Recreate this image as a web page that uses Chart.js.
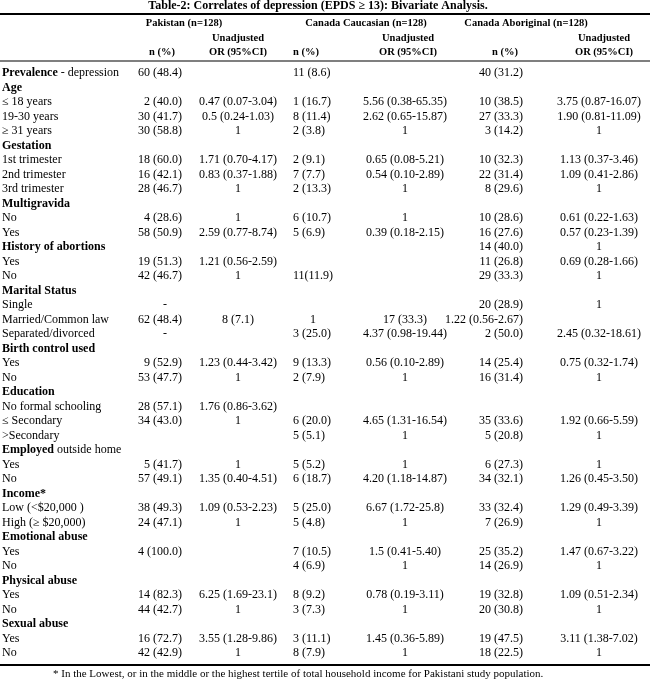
<!DOCTYPE html>
<html>
<head>
<meta charset="utf-8">
<script src="https://cdn.jsdelivr.net/npm/chart.js@4.4.1/dist/chart.umd.min.js"></script>
<style>
  body { margin: 0; background: #fff; }
  #wrap { width: 650px; height: 681px; }
</style>
</head>
<body>
<div id="wrap"><canvas id="tbl" width="650" height="681"></canvas></div>
<script>
const title = 'Table-2: Correlates of depression (EPDS \u2265 13): Bivariate Analysis.';
const groups = ['Pakistan (n=128)', 'Canada Caucasian (n=128)', 'Canada Aboriginal (n=128)'];
const subHeads = ['n (%)', 'Unadjusted|OR (95%CI)'];
const footnote = '* In the Lowest, or in the middle or the highest tertile of total household income for Pakistani study population.';

const rowLabels = [
  'Prevalence - depression', 'Age', '\u2264 18 years', '19-30 years', '\u2265 31 years',
  'Gestation', '1st trimester', '2nd trimester', '3rd trimester',
  'Multigravida', 'No', 'Yes',
  'History of abortions', 'Yes', 'No',
  'Marital Status', 'Single', 'Married/Common law', 'Separated/divorced',
  'Birth control used', 'Yes', 'No',
  'Education', 'No formal schooling', '\u2264 Secondary', '>Secondary',
  'Employed outside home', 'Yes', 'No',
  'Income*', 'Low (<$20,000 )', 'High (\u2265 $20,000)',
  'Emotional abuse', 'Yes', 'No',
  'Physical abuse', 'Yes', 'No',
  'Sexual abuse', 'Yes', 'No'
];
const headRows = [0, 1, 5, 9, 12, 15, 19, 22, 26, 29, 32, 35, 38];
const boldFirstWord = [0, 26];

const pakN = [
  '60 (48.4)', '', '2 (40.0)', '30 (41.7)', '30 (58.8)',
  '', '18 (60.0)', '16 (42.1)', '28 (46.7)',
  '', '4 (28.6)', '58 (50.9)',
  '', '19 (51.3)', '42 (46.7)',
  '', '-', '62 (48.4)', '-',
  '', '9 (52.9)', '53 (47.7)',
  '', '28 (57.1)', '34 (43.0)', '',
  '', '5 (41.7)', '57 (49.1)',
  '', '38 (49.3)', '24 (47.1)',
  '', '4 (100.0)', '',
  '', '14 (82.3)', '44 (42.7)',
  '', '16 (72.7)', '42 (42.9)'
];
const pakOR = [
  '', '', '0.47 (0.07-3.04)', '0.5 (0.24-1.03)', '1',
  '', '1.71 (0.70-4.17)', '0.83 (0.37-1.88)', '1',
  '', '1', '2.59 (0.77-8.74)',
  '', '1.21 (0.56-2.59)', '1',
  '', '', '8 (7.1)', '',
  '', '1.23 (0.44-3.42)', '1',
  '', '1.76 (0.86-3.62)', '1', '',
  '', '1', '1.35 (0.40-4.51)',
  '', '1.09 (0.53-2.23)', '1',
  '', '', '',
  '', '6.25 (1.69-23.1)', '1',
  '', '3.55 (1.28-9.86)', '1'
];
const canN = [
  '11 (8.6)', '', '1 (16.7)', '8 (11.4)', '2 (3.8)',
  '', '2 (9.1)', '7 (7.7)', '2 (13.3)',
  '', '6 (10.7)', '5 (6.9)',
  '', '', '11(11.9)',
  '', '', '1', '3 (25.0)',
  '', '9 (13.3)', '2 (7.9)',
  '', '', '6 (20.0)', '5 (5.1)',
  '', '5 (5.2)', '6 (18.7)',
  '', '5 (25.0)', '5 (4.8)',
  '', '7 (10.5)', '4 (6.9)',
  '', '8 (9.2)', '3 (7.3)',
  '', '3 (11.1)', '8 (7.9)'
];
const canOR = [
  '', '', '5.56 (0.38-65.35)', '2.62 (0.65-15.87)', '1',
  '', '0.65 (0.08-5.21)', '0.54 (0.10-2.89)', '1',
  '', '1', '0.39 (0.18-2.15)',
  '', '', '',
  '', '', '17 (33.3)', '4.37 (0.98-19.44)',
  '', '0.56 (0.10-2.89)', '1',
  '', '', '4.65 (1.31-16.54)', '1',
  '', '1', '4.20 (1.18-14.87)',
  '', '6.67 (1.72-25.8)', '1',
  '', '1.5 (0.41-5.40)', '1',
  '', '0.78 (0.19-3.11)', '1',
  '', '1.45 (0.36-5.89)', '1'
];
const aboN = [
  '40 (31.2)', '', '10 (38.5)', '27 (33.3)', '3 (14.2)',
  '', '10 (32.3)', '22 (31.4)', '8 (29.6)',
  '', '10 (28.6)', '16 (27.6)',
  '14 (40.0)', '11 (26.8)', '29 (33.3)',
  '', '20 (28.9)', '1.22 (0.56-2.67)', '2 (50.0)',
  '', '14 (25.4)', '16 (31.4)',
  '', '', '35 (33.6)', '5 (20.8)',
  '', '6 (27.3)', '34 (32.1)',
  '', '33 (32.4)', '7 (26.9)',
  '', '25 (35.2)', '14 (26.9)',
  '', '19 (32.8)', '20 (30.8)',
  '', '19 (47.5)', '18 (22.5)'
];
const aboOR = [
  '', '', '3.75 (0.87-16.07)', '1.90 (0.81-11.09)', '1',
  '', '1.13 (0.37-3.46)', '1.09 (0.41-2.86)', '1',
  '', '0.61 (0.22-1.63)', '0.57 (0.23-1.39)',
  '1', '0.69 (0.28-1.66)', '1',
  '', '1', '', '2.45 (0.32-18.61)',
  '', '0.75 (0.32-1.74)', '1',
  '', '', '1.92 (0.66-5.59)', '1',
  '', '1', '1.26 (0.45-3.50)',
  '', '1.29 (0.49-3.39)', '1',
  '', '1.47 (0.67-3.22)', '1',
  '', '1.09 (0.51-2.34)', '1',
  '', '3.11 (1.38-7.02)', '1'
];

// layout (pixel anchors on the 0..650 x scale)
const serif = '"Liberation Serif", "Times New Roman", serif';
const cols = [
  { values: pakN,  anchor: 182, align: 'right',  mid: 165 },
  { values: pakOR, anchor: 238, align: 'center' },
  { values: canN,  anchor: 293, align: 'left',   mid: 313 },
  { values: canOR, anchor: 405, align: 'center' },
  { values: aboN,  anchor: 523, align: 'right',  mid: 505 },
  { values: aboOR, anchor: 599, align: 'center' }
];
const groupX = [184, 366, 526];
const subX = [[162, 238], [306, 408], [505, 604]];

function cellPoints(col) {
  let pts = [];
  col.values.forEach((v, i) => {
    if (v === '') return;
    let short = (v === '-' || v === '1') && col.mid;
    pts.push({ x: short ? col.mid : col.anchor, y: i, text: v, align: short ? 'center' : col.align });
  });
  return pts;
}

let datasets = [{
  label: 'stub',
  data: rowLabels.map((lab, i) => ({ x: 2, y: i, text: lab, align: 'left', stub: true })),
  pointRadius: 0
}];
cols.forEach((c, k) => datasets.push({ label: 'col' + k, data: cellPoints(c), pointRadius: 0 }));

const tableText = {
  id: 'tableText',
  afterDatasetsDraw(chart) {
    const ctx = chart.ctx;
    const xs = chart.scales.x;
    ctx.save();
    ctx.fillStyle = '#000';
    ctx.textBaseline = 'middle';

    chart.data.datasets.forEach((ds, di) => {
      const meta = chart.getDatasetMeta(di);
      meta.data.forEach((pt, i) => {
        const d = ds.data[i];
        if (d.stub) {
          const row = d.y;
          ctx.textAlign = 'left';
          if (headRows.includes(row)) {
            let bold = d.text, rest = '';
            if (boldFirstWord.includes(row)) {
              bold = d.text.split(' ')[0];
              rest = d.text.slice(bold.length);
            }
            ctx.font = 'bold 12px ' + serif;
            ctx.fillText(bold, pt.x, pt.y);
            const w = ctx.measureText(bold).width;
            ctx.font = '12px ' + serif;
            ctx.fillText(rest, pt.x + w, pt.y);
          } else {
            ctx.font = '12px ' + serif;
            ctx.fillText(d.text, pt.x, pt.y);
          }
          return;
        }
        ctx.font = '12px ' + serif;
        ctx.textAlign = d.align;
        ctx.fillText(d.text, pt.x, pt.y);
      });
    });

    // title, header block, rules, footnote
    ctx.textAlign = 'center';
    ctx.font = 'bold 12px ' + serif;
    ctx.fillText(title, xs.getPixelForValue(318), 6);

    ctx.fillRect(0, 13, chart.width, 2);
    ctx.font = 'bold 10.5px ' + serif;
    groups.forEach((g, k) => {
      ctx.fillText(g, xs.getPixelForValue(groupX[k]), 23);
      const [nx, ox] = subX[k];
      const parts = subHeads[1].split('|');
      ctx.fillText(parts[0], xs.getPixelForValue(ox), 38);
      ctx.fillText(parts[1], xs.getPixelForValue(ox), 52);
      ctx.fillText(subHeads[0], xs.getPixelForValue(nx), 52);
    });
    ctx.fillRect(0, 60.5, chart.width, 1);

    ctx.fillRect(0, 664, chart.width, 2);
    ctx.textAlign = 'left';
    ctx.font = '11px ' + serif;
    ctx.fillText(footnote, 53, 674);
    ctx.restore();
  }
};

new Chart(document.getElementById('tbl'), {
  type: 'scatter',
  data: { datasets: datasets },
  options: {
    responsive: false,
    animation: false,
    layout: { padding: { left: 0, right: 0, top: 65.75, bottom: 20.75 } },
    plugins: { legend: { display: false }, tooltip: { enabled: false } },
    scales: {
      x: { type: 'linear', min: 0, max: 650, display: false },
      y: { type: 'linear', min: -0.5, max: 40.5, reverse: true, display: false }
    }
  },
  plugins: [tableText]
});
</script>
</body>
</html>
